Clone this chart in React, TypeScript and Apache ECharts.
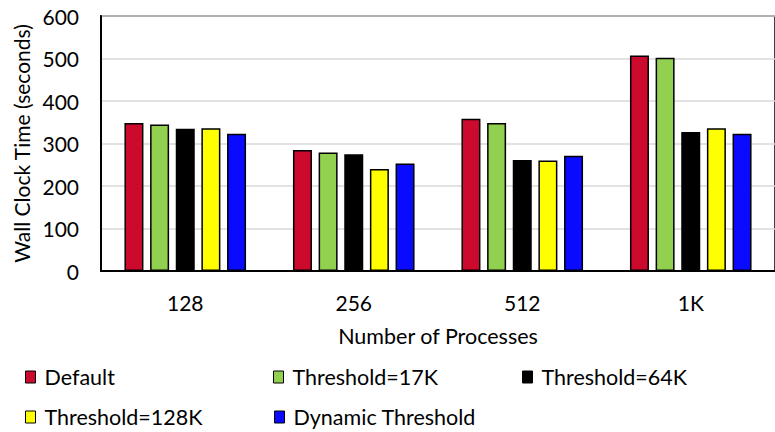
import React, { useEffect, useRef } from "react";
import * as echarts from "echarts";

// Process counts on the x axis
const categories: string[] = ["128", "256", "512", "1K"];

// Wall clock time in seconds for each configuration
const seriesNames: string[] = [
  "Default",
  "Threshold=17K",
  "Threshold=64K",
  "Threshold=128K",
  "Dynamic Threshold",
];
const defaultTimes: number[] = [348, 285, 358, 507];
const threshold17K: number[] = [345, 279, 348, 502];
const threshold64K: number[] = [335, 275, 261, 327];
const threshold128K: number[] = [336, 240, 260, 336];
const dynamicThreshold: number[] = [323, 253, 271, 323];

const yTicks = { min: 0, max: 600, interval: 100 };

const colors: string[] = ["#CC0A2E", "#92D050", "#000000", "#FFFF00", "#0A0AFF"];
const FONT = "Lato, 'Noto Sans', sans-serif";

export default function App() {
  const ref = useRef<HTMLDivElement>(null);

  useEffect(() => {
    if (!ref.current) return;
    const chart = echarts.init(ref.current, undefined, { renderer: "svg" });
    const values = [defaultTimes, threshold17K, threshold64K, threshold128K, dynamicThreshold];

    // legend slots: [left, top]
    const legendPos: [number, number][] = [
      [25, 366],
      [273, 366],
      [522, 366],
      [25, 406],
      [274, 406],
    ];

    chart.setOption({
      animation: false,
      backgroundColor: "#ffffff",
      textStyle: { fontFamily: FONT },
      grid: {
        left: 101,
        top: 16,
        right: -2,
        bottom: 161,
        show: true,
        borderColor: "#000",
        borderWidth: 1.5,
        containLabel: false,
      },
      legend: seriesNames.map((name, i) => ({
        data: [name],
        left: legendPos[i][0],
        top: legendPos[i][1],
        icon: "rect",
        itemWidth: 10,
        itemHeight: 12,
        padding: 0,
        textStyle: {
          fontFamily: FONT,
          fontSize: 21.5,
          color: "#000",
          padding: [0, 0, 0, 4],
        },
        itemStyle: { borderColor: "#000", borderWidth: 1 },
      })),
      xAxis: {
        type: "category",
        data: categories,
        name: "Number of Processes",
        nameLocation: "middle",
        nameGap: 54,
        nameTextStyle: { fontFamily: FONT, fontSize: 21.5, color: "#000" },
        axisLine: { show: true, lineStyle: { color: "#000", width: 2 } },
        axisTick: { show: false },
        axisLabel: { fontFamily: FONT, fontSize: 21, color: "#000", margin: 21 },
        splitLine: { show: false },
      },
      yAxis: {
        type: "value",
        min: yTicks.min,
        max: yTicks.max,
        interval: yTicks.interval,
        name: "Wall Clock Time (seconds)",
        nameLocation: "middle",
        nameGap: 47,
        nameTextStyle: { fontFamily: FONT, fontSize: 21, color: "#000" },
        axisLine: { show: true, lineStyle: { color: "#000", width: 2 } },
        axisTick: { show: false },
        axisLabel: { fontFamily: FONT, fontSize: 21, color: "#000", margin: 22 },
        splitLine: { show: true, lineStyle: { color: "#D9D9D9", width: 1.5 } },
      },
      series: seriesNames.map((name, i) => ({
        name,
        type: "bar",
        data: values[i],
        barWidth: 19,
        barGap: "35%",
        itemStyle: { color: colors[i], borderColor: "#000", borderWidth: 1.5 },
      })),
    });

    return () => chart.dispose();
  }, []);

  return (
    <div
      ref={ref}
      style={{ position: "fixed", left: 0, top: 0, width: 775, height: 432 }}
    />
  );
}
